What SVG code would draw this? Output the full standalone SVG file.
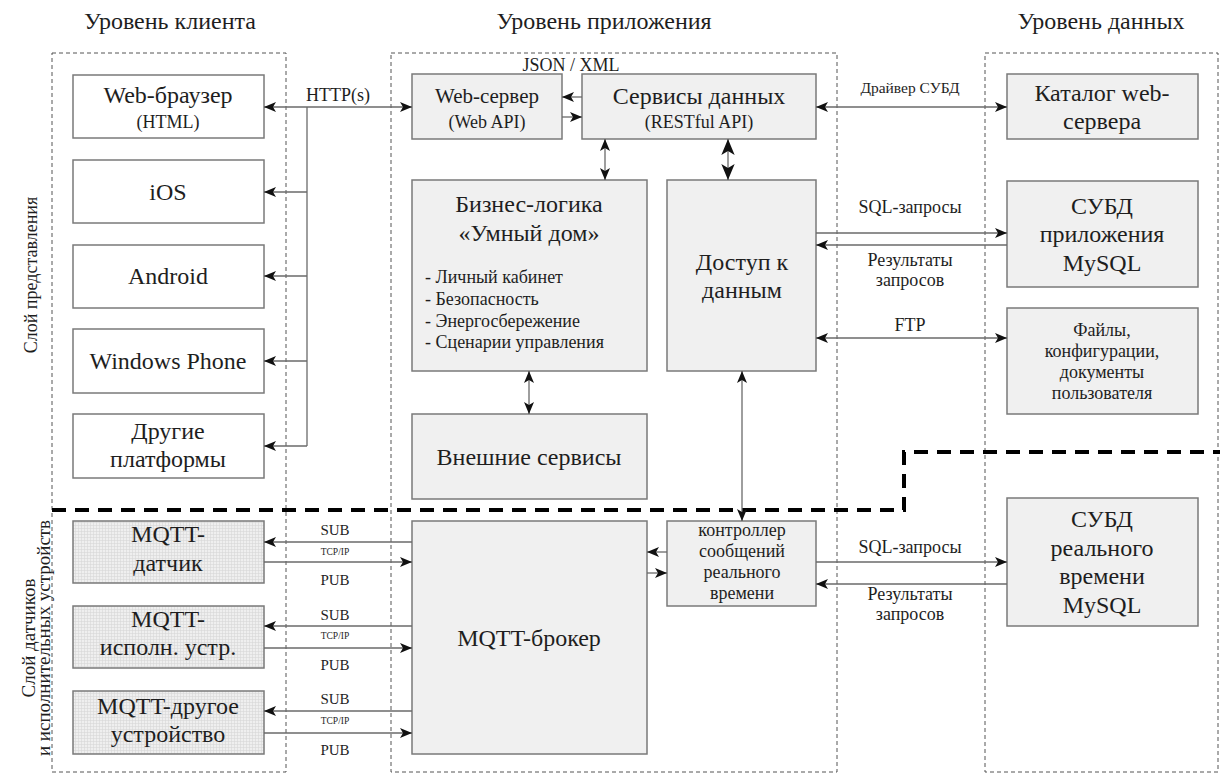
<svg xmlns="http://www.w3.org/2000/svg" width="1220" height="774" viewBox="0 0 1220 774" font-family="Liberation Serif, serif">
  <style>
    text { font-family: "Liberation Serif", serif; fill: #1e1e1e; }
    .title { font-size: 24px; text-anchor: middle; }
    .lbl { font-size: 24px; text-anchor: middle; }
    .mid { font-size: 21px; text-anchor: middle; }
    .sub { font-size: 18px; text-anchor: middle; }
    .sm { font-size: 18px; text-anchor: middle; }
    .xs { font-size: 15.5px; text-anchor: middle; }
    .ps { font-size: 15px; text-anchor: middle; }
    .tiny { font-size: 9.5px; text-anchor: middle; }
    .list { font-size: 18px; }
    .side { font-size: 18px; text-anchor: middle; }
    .side2 { font-size: 19px; text-anchor: middle; }
    .zone { fill: none; stroke: #555; stroke-width: 1; stroke-dasharray: 4 3; }
    .box { fill: #f0f0f0; stroke: #7a7a7a; stroke-width: 1.5; }
    .client { fill: #fff; stroke: #7a7a7a; stroke-width: 1.5; }
    .dev { fill: url(#grid); stroke: #7a7a7a; stroke-width: 1.5; }
    .split { fill: none; stroke: #000; stroke-width: 4; stroke-dasharray: 14 9; }
    .c { fill: none; stroke: #6a6a6a; stroke-width: 1.3; }
    .one { marker-end: url(#ah); }
    .two { marker-start: url(#ah); marker-end: url(#ah); }
    .twoB { marker-start: url(#ahB); marker-end: url(#ahB); }
  </style>
  <defs>
    <marker id="ah" viewBox="0 0 12 10" refX="12" refY="5" markerWidth="12" markerHeight="10" markerUnits="userSpaceOnUse" orient="auto-start-reverse">
      <path d="M0,0 L12,5 L0,10 L3,5 z" fill="#111"/>
    </marker>
    <marker id="ahB" viewBox="0 0 12 10" refX="12" refY="5" markerWidth="16" markerHeight="14" markerUnits="userSpaceOnUse" orient="auto-start-reverse">
      <path d="M0,0 L12,5 L0,10 L3,5 z" fill="#111"/>
    </marker>
    <pattern id="grid" width="3" height="3" patternUnits="userSpaceOnUse">
      <rect width="3" height="3" fill="#efefef"/>
      <path d="M0,0.5 H3 M0.5,0 V3" stroke="#d6d6d6" stroke-width="0.6"/>
    </pattern>
  </defs>

  <rect width="1220" height="774" fill="#fff"/>

  <!-- tier titles -->
  <text class="title" x="170" y="29">Уровень клиента</text>
  <text class="title" x="604" y="29">Уровень приложения</text>
  <text class="title" x="1101" y="29">Уровень данных</text>

  <!-- layer captions -->
  <text class="side" transform="translate(37,275) rotate(-90)">Слой представления</text>
  <text class="side2" transform="translate(35,638) rotate(-90)">Слой датчиков</text>
  <text class="side2" transform="translate(50,638) rotate(-90)">и исполнительных  устройств</text>

  <!-- tier zones -->
  <g id="zones">
    <rect class="zone" x="52" y="53" width="234" height="719"/>
    <rect class="zone" x="391" y="53" width="446" height="719"/>
    <rect class="zone" x="985" y="53" width="233" height="719"/>
  </g>

  <!-- client nodes -->
  <g id="web-browser">
    <rect class="client" x="73" y="75" width="191" height="63"/>
    <text class="lbl" x="168" y="103">Web-браузер</text>
    <text class="sub" x="168" y="128">(HTML)</text>
  </g>
  <g id="ios">
    <rect class="client" x="73" y="160" width="191" height="63"/>
    <text class="lbl" x="168" y="200">iOS</text>
  </g>
  <g id="android">
    <rect class="client" x="73" y="245" width="191" height="63"/>
    <text class="lbl" x="168" y="284">Android</text>
  </g>
  <g id="windows-phone">
    <rect class="client" x="73" y="329" width="191" height="64"/>
    <text class="lbl" x="168" y="369">Windows Phone</text>
  </g>
  <g id="other-platforms">
    <rect class="client" x="73" y="414" width="191" height="64"/>
    <text class="lbl" x="168" y="439">Другие</text>
    <text class="lbl" x="168" y="467">платформы</text>
  </g>

  <!-- application nodes -->
  <g id="web-server">
    <rect class="box" x="412" y="74" width="150" height="65"/>
    <text class="mid" x="487" y="103">Web-сервер</text>
    <text class="sub" x="487" y="128">(Web API)</text>
  </g>
  <g id="data-services">
    <rect class="box" x="582" y="74" width="234" height="65"/>
    <text class="lbl" x="699" y="104">Сервисы данных</text>
    <text class="sub" x="699" y="128">(RESTful API)</text>
  </g>
  <g id="business-logic">
    <rect class="box" x="412" y="180" width="235" height="191"/>
    <text class="lbl" x="529" y="212">Бизнес-логика</text>
    <text class="lbl" x="529" y="241">«Умный дом»</text>
    <text class="list" x="425" y="283">- Личный кабинет</text>
    <text class="list" x="425" y="305">- Безопасность</text>
    <text class="list" x="425" y="327">- Энергосбережение</text>
    <text class="list" x="425" y="348">- Сценарии управления</text>
  </g>
  <g id="data-access">
    <rect class="box" x="667" y="180" width="149" height="191"/>
    <text class="lbl" x="742" y="270">Доступ к</text>
    <text class="lbl" x="742" y="298">данным</text>
  </g>
  <g id="external-services">
    <rect class="box" x="412" y="414" width="235" height="85"/>
    <text class="lbl" x="529" y="465">Внешние сервисы</text>
  </g>
  <g id="mqtt-broker">
    <rect class="box" x="412" y="521" width="235" height="233"/>
    <text class="lbl" x="529" y="646">MQTT-брокер</text>
  </g>
  <g id="rt-controller">
    <rect class="box" x="667" y="521" width="149" height="85"/>
    <text class="sub" x="742" y="536">контроллер</text>
    <text class="sub" x="742" y="557">сообщений</text>
    <text class="sub" x="742" y="578">реального</text>
    <text class="sub" x="742" y="599">времени</text>
  </g>

  <!-- data nodes -->
  <g id="web-catalog">
    <rect class="box" x="1007" y="74" width="191" height="65"/>
    <text class="lbl" x="1102" y="101">Каталог web-</text>
    <text class="lbl" x="1102" y="129">сервера</text>
  </g>
  <g id="app-dbms">
    <rect class="box" x="1007" y="181" width="191" height="106"/>
    <text class="lbl" x="1102" y="214">СУБД</text>
    <text class="lbl" x="1102" y="242">приложения</text>
    <text class="lbl" x="1102" y="271">MySQL</text>
  </g>
  <g id="user-files">
    <rect class="box" x="1007" y="308" width="191" height="106"/>
    <text class="sub" x="1102" y="336">Файлы,</text>
    <text class="sub" x="1102" y="357">конфигурации,</text>
    <text class="sub" x="1102" y="378">документы</text>
    <text class="sub" x="1102" y="399">пользователя</text>
  </g>
  <g id="rt-dbms">
    <rect class="box" x="1007" y="498" width="191" height="128"/>
    <text class="lbl" x="1102" y="527">СУБД</text>
    <text class="lbl" x="1102" y="556">реального</text>
    <text class="lbl" x="1102" y="584">времени</text>
    <text class="lbl" x="1102" y="613">MySQL</text>
  </g>

  <!-- device nodes -->
  <g id="mqtt-sensor">
    <rect class="dev" x="73" y="521" width="191" height="62"/>
    <text class="lbl" x="168" y="542">MQTT-</text>
    <text class="lbl" x="168" y="571">датчик</text>
  </g>
  <g id="mqtt-actuator">
    <rect class="dev" x="73" y="606" width="191" height="62"/>
    <text class="lbl" x="168" y="627">MQTT-</text>
    <text class="lbl" x="168" y="655">исполн. устр.</text>
  </g>
  <g id="mqtt-other">
    <rect class="dev" x="73" y="691" width="191" height="63"/>
    <text class="lbl" x="168" y="714">MQTT-другое</text>
    <text class="lbl" x="168" y="742">устройство</text>
  </g>

  <!-- layer boundary -->
  <path class="split" d="M52,510 H904 V452 H1220"/>

  <!-- connectors -->
  <g id="connectors">
    <!-- HTTP(s) bus -->
    <line class="c two" x1="264" y1="107" x2="412" y2="107"/>
    <line class="c" x1="307" y1="107" x2="307" y2="446"/>
    <line class="c one" x1="307" y1="192" x2="264" y2="192"/>
    <line class="c one" x1="307" y1="276" x2="264" y2="276"/>
    <line class="c one" x1="307" y1="361" x2="264" y2="361"/>
    <line class="c one" x1="307" y1="446" x2="264" y2="446"/>

    <!-- web server / data services -->
    <line class="c one" x1="582" y1="97" x2="562" y2="97"/>
    <line class="c one" x1="562" y1="117" x2="582" y2="117"/>
    <line class="c two" x1="605" y1="139" x2="605" y2="180"/>
    <line class="c twoB" x1="728" y1="139" x2="728" y2="180"/>

    <!-- business logic / external services -->
    <line class="c two" x1="529" y1="371" x2="529" y2="414"/>
    <!-- data access / realtime controller -->
    <line class="c two" x1="742" y1="371" x2="742" y2="521"/>

    <!-- data tier links -->
    <line class="c two" x1="816" y1="107" x2="1007" y2="107"/>
    <line class="c one" x1="816" y1="233" x2="1007" y2="233"/>
    <line class="c one" x1="1007" y1="245" x2="816" y2="245"/>
    <line class="c two" x1="816" y1="338" x2="1007" y2="338"/>
    <line class="c one" x1="816" y1="562" x2="1007" y2="562"/>
    <line class="c one" x1="1007" y1="584" x2="816" y2="584"/>

    <!-- controller / broker -->
    <line class="c one" x1="667" y1="552" x2="647" y2="552"/>
    <line class="c one" x1="647" y1="573" x2="667" y2="573"/>

    <!-- broker / devices -->
    <line class="c one" x1="412" y1="542" x2="264" y2="542"/>
    <line class="c one" x1="264" y1="562" x2="412" y2="562"/>
    <line class="c one" x1="412" y1="626" x2="264" y2="626"/>
    <line class="c one" x1="264" y1="648" x2="412" y2="648"/>
    <line class="c one" x1="412" y1="711" x2="264" y2="711"/>
    <line class="c one" x1="264" y1="733" x2="412" y2="733"/>

    <!-- connector labels -->
    <text class="sm" x="338" y="101">HTTP(s)</text>
    <text class="sm" x="571" y="71">JSON / XML</text>
    <text class="xs" x="910" y="93">Драйвер СУБД</text>
    <text class="sm" x="910" y="213">SQL-запросы</text>
    <text class="sm" x="910" y="266">Результаты</text>
    <text class="sm" x="910" y="286">запросов</text>
    <text class="sm" x="910" y="331">FTP</text>
    <text class="sm" x="910" y="553">SQL-запросы</text>
    <text class="sm" x="910" y="600">Результаты</text>
    <text class="sm" x="910" y="620">запросов</text>

    <text class="ps" x="335" y="535">SUB</text>
    <text class="tiny" x="335" y="555">TCP/IP</text>
    <text class="ps" x="335" y="585">PUB</text>
    <text class="ps" x="335" y="620">SUB</text>
    <text class="tiny" x="335" y="639">TCP/IP</text>
    <text class="ps" x="335" y="670">PUB</text>
    <text class="ps" x="335" y="704">SUB</text>
    <text class="tiny" x="335" y="724">TCP/IP</text>
    <text class="ps" x="335" y="755">PUB</text>
  </g>
</svg>
